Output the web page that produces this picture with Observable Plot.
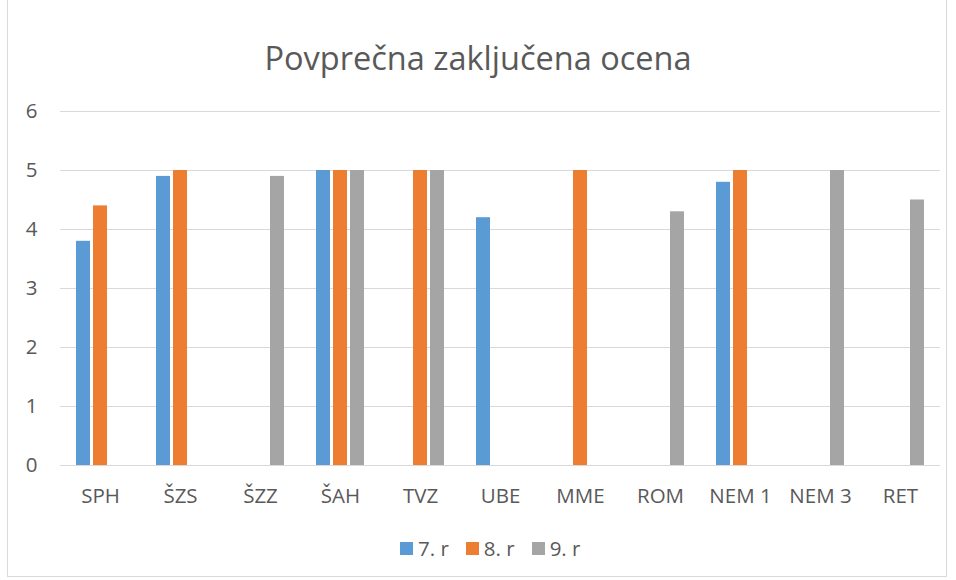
<!DOCTYPE html>
<html>
<head>
<meta charset="utf-8">
<script src="https://cdn.jsdelivr.net/npm/d3@7"></script>
<script src="https://cdn.jsdelivr.net/npm/@observablehq/plot@0.6"></script>
<style>
  body { margin: 0; background: #fff; font-family: "Open Sans", Lato, sans-serif; }
  #wrap { position: relative; width: 956px; height: 580px; overflow: hidden; }
  #frame { position: absolute; left: 7px; top: -1px; width: 940px; height: 578px; border: 1px solid #d9d9d9; box-sizing: border-box; }
  #title { position: absolute; left: 0; width: 956px; top: 36px; text-align: center; font-size: 32.5px; color: #595959; line-height: 44px; }
  #chart { position: absolute; left: 0; top: 90px; }
  #chart svg g[aria-label="y-axis tick label"] text, #chart svg g[aria-label="fx-axis tick label"] text { font-size: 20.5px; }
  #legend { position: absolute; top: 536px; left: 400px; display: flex; gap: 17px; font-size: 20.5px; color: #595959; line-height: 24px; }
  .item { display: flex; align-items: center; }
  .sw { width: 13px; height: 13px; margin-right: 5px; display: inline-block; }
</style>
</head>
<body>
<div id="wrap">
  <div id="frame"></div>
  <div id="title">Povprečna zaključena ocena</div>
  <div id="chart"></div>
  <div id="legend"></div>
</div>
<script>
const categories = ["SPH", "ŠZS", "ŠZZ", "ŠAH", "TVZ", "UBE", "MME", "ROM", "NEM 1", "NEM 3", "RET"];
const seriesNames = ["7. r", "8. r", "9. r"];
const values7 = [3.8, 4.9, null, 5, null, 4.2, null, null, 4.8, null, null];
const values8 = [4.4, 5, null, 5, 5, null, 5, null, 5, null, null];
const values9 = [null, null, 4.9, 5, 5, null, null, 4.3, null, 5, 4.5];
const yTicks = [0, 1, 2, 3, 4, 5, 6];
const colors = ["#5B9BD5", "#ED7D31", "#A5A5A5"];

const seriesValues = [values7, values8, values9];
const data = [];
categories.forEach((c, i) => {
  seriesNames.forEach((s, j) => {
    const v = seriesValues[j][i];
    if (v != null) data.push({category: c, series: s, value: v});
  });
});

const chart = Plot.plot({
  width: 956,
  height: 420,
  marginLeft: 60,
  marginRight: 16,
  marginTop: 21,
  marginBottom: 45,
  style: {fontFamily: "'Open Sans', Lato, sans-serif", fontSize: "20.5px", color: "#595959", background: "transparent"},
  fx: {domain: categories, padding: 0, label: null, axis: null},
  x: {domain: seriesNames, axis: null, paddingInner: 0.2, paddingOuter: 0.886},
  y: {domain: [0, 6], label: null, axis: null},
  color: {domain: seriesNames, range: colors},
  marks: [
    Plot.ruleY(yTicks, {y: d => d, stroke: "#d9d9d9", strokeWidth: 1.2, strokeOpacity: 1}),
    Plot.barY(data, {fx: "category", x: "series", y: "value", fill: "series"}),
    Plot.axisY({anchor: "left", ticks: yTicks, tickFormat: d3.format("d"), tickSize: 0, tickPadding: 23, fontSize: 20.5, label: null}),
    Plot.axisFx({anchor: "bottom", tickSize: 0, tickPadding: 23, fontSize: 20.5, label: null})
  ]
});
document.getElementById("chart").appendChild(chart);

const legend = document.getElementById("legend");
seriesNames.forEach((s, j) => {
  const item = document.createElement("div");
  item.className = "item";
  const sw = document.createElement("span");
  sw.className = "sw";
  sw.style.background = colors[j];
  item.appendChild(sw);
  item.appendChild(document.createTextNode(s));
  legend.appendChild(item);
});
</script>
</body>
</html>
